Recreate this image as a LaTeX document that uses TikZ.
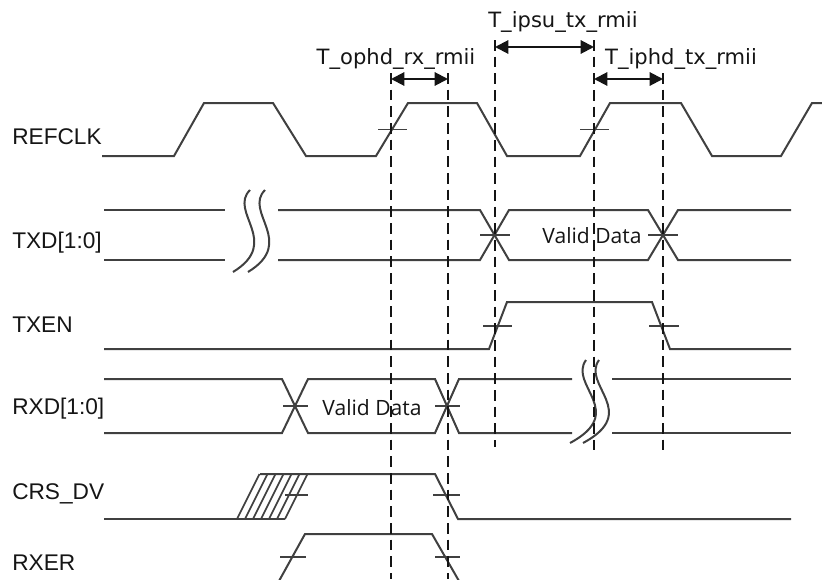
\documentclass[tikz,border=0pt]{standalone}
\usepackage{fontspec}
\setmainfont{Liberation Sans}
\newfontfamily\tfont{DejaVu Sans}
\newfontfamily\vfont{Open Sans}
\usetikzlibrary{arrows.meta}
\definecolor{sigc}{HTML}{404040}
\definecolor{txtc}{HTML}{151515}
\begin{document}
\begin{tikzpicture}[x=0.75pt,y=-0.75pt,
  sig/.style={draw=sigc,line width=1.5pt,line join=miter},
  tickl/.style={draw=sigc,line width=1.3pt},
  guide/.style={draw=black!92,line width=1.7pt,dash pattern=on 8pt off 4.5pt},
  dim/.style={draw=black!92,line width=1.5pt,{Triangle[length=10pt,width=10pt]}-{Triangle[length=10pt,width=10pt]}},
  lbl/.style={anchor=west,inner sep=0pt,text=txtc,font=\fontsize{17pt}{19pt}\selectfont},
  tlbl/.style={inner sep=0pt,text=txtc,font=\tfont\fontsize{15.8pt}{18pt}\selectfont},
  vd/.style={inner sep=0pt,text=txtc,font=\vfont\fontsize{15.8pt}{18pt}\selectfont}]
\useasboundingbox[fill=white] (0,0) rectangle (822,579);

% signal labels
\node[lbl] (lrefclk) at (12,137) {REFCLK};
\node[lbl] (ltxd) at (12,243) {TXD[1:0]};
\node[lbl] (ltxen) at (12,325) {TXEN};
\node[lbl] (lrxd) at (12,409) {RXD[1:0]};
\node[lbl] (lcrs) at (12,494) {CRS\_DV};
\node[lbl] (lrxer) at (12,563) {RXER};

% REFCLK
\draw[sig] (102,156) -- (174,156) -- (204,103) -- (273,103) -- (306,156) -- (376,156) -- (408,103) -- (477,103) -- (507,156) -- (580,156) -- (610,103) -- (681,103) -- (712,156) -- (781,156) -- (812,103) -- (822,103);
\draw[tickl] (378,129.5) -- (407,129.5);
\draw[tickl] (580,129.5) -- (609,129.5);

% TXD
\draw[sig] (104,210) -- (225,210);
\draw[sig] (104,260) -- (225,260);
\draw[sig] (250,190) .. controls (228,212) and (282,242) .. (233,272);
\draw[sig] (265,190) .. controls (243,212) and (297,242) .. (248,272);
\draw[sig] (278,210) -- (480,210) -- (509,260) -- (648,260) -- (678,210) -- (791,210);
\draw[sig] (278,260) -- (480,260) -- (509,210) -- (648,210) -- (678,260) -- (791,260);
\draw[tickl] (480,235) -- (510,235);
\draw[tickl] (648,235) -- (678,235);
\node[vd] (vdtx) at (592,236) {Valid Data};

% TXEN
\draw[sig] (104,349) -- (489,349) -- (507,302) -- (652,302) -- (670,349) -- (791,349);
\draw[tickl] (483,326) -- (512,326);
\draw[tickl] (649,326) -- (679,326);

% RXD
\draw[sig] (104,379) -- (282,379) -- (308,433) -- (435,433) -- (459,379) -- (572,379);
\draw[sig] (104,433) -- (282,433) -- (308,379) -- (435,379) -- (459,433) -- (572,433);
\draw[sig] (612,379) -- (791,379);
\draw[sig] (612,433) -- (791,433);
\draw[sig] (586,360) .. controls (568,385) and (628,412) .. (570,443);
\draw[sig] (599,360) .. controls (581,385) and (641,412) .. (583,443);
\draw[tickl] (283,406) -- (308,406);
\draw[tickl] (435,406) -- (460,406);
\node[vd] (vdrx) at (372,408) {Valid Data};

% CRS_DV
\draw[sig] (104,519) -- (285,519);
\foreach \k in {0,...,6} {
  \draw[sig,line width=1.2pt] ({237+8*\k},519) -- ({259.5+8*\k},474);
}
\draw[sig] (260,474) -- (435,474) -- (458,519) -- (791,519);
\draw[tickl] (285,495) -- (308,495);
\draw[tickl] (433,495) -- (460,495);

% RXER
\draw[sig] (279,581) -- (305,534) -- (432,534) -- (459,581);
\draw[tickl] (280,557) -- (306,557);
\draw[tickl] (435,557) -- (460,557);

% timing guides
\coordinate (g1t) at (391,73);  \coordinate (g1b) at (391,579);
\coordinate (g2t) at (448,73);  \coordinate (g2b) at (448,579);
\coordinate (g3t) at (495,40);  \coordinate (g3b) at (495,447);
\coordinate (g4t) at (594,40);  \coordinate (g4b) at (594,450);
\coordinate (g5t) at (663,73);  \coordinate (g5b) at (663,455);
\draw[guide] (g1t) -- (g1b);
\draw[guide] (g2t) -- (g2b);
\draw[guide] (g3t) -- (g3b);
\draw[guide] (g4t) -- (g4b);
\draw[guide] (g5t) -- (g5b);

% dimension arrows
\coordinate (a1l) at (391,79); \coordinate (a1r) at (448,79);
\coordinate (a2l) at (495,47); \coordinate (a2r) at (594,47);
\coordinate (a3l) at (594,79); \coordinate (a3r) at (663,79);
\draw[dim] (a1l) -- (a1r);
\draw[dim] (a2l) -- (a2r);
\draw[dim] (a3l) -- (a3r);
\node[tlbl] (tophd) at (396,59) {T\_ophd\_rx\_rmii};
\node[tlbl] (tipsu) at (563,22) {T\_ipsu\_tx\_rmii};
\node[tlbl] (tiphd) at (681,59) {T\_iphd\_tx\_rmii};
\end{tikzpicture}
\end{document}
